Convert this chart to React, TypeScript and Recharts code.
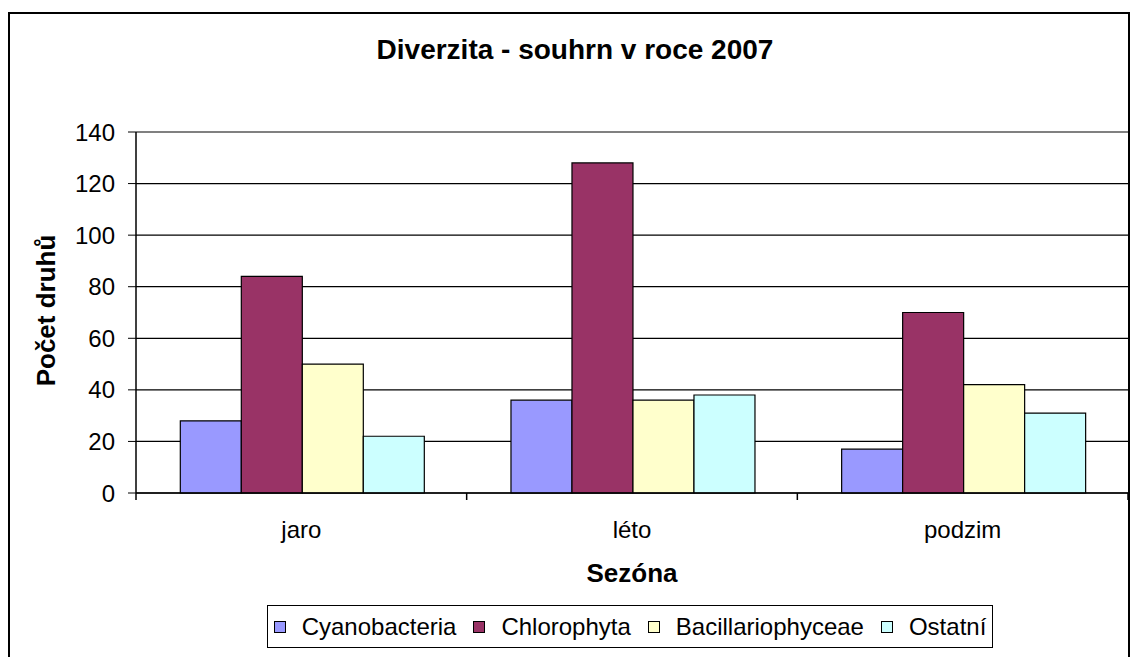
import { Bar, BarChart, CartesianGrid, Legend, ReferenceLine, XAxis, YAxis } from 'recharts';

const seasons = ['jaro', 'léto', 'podzim'];
const cyanobacteria = [28, 36, 17];
const chlorophyta = [84, 128, 70];
const bacillariophyceae = [50, 36, 42];
const ostatni = [22, 38, 31];
const yTicks = [0, 20, 40, 60, 80, 100, 120, 140];
const boundaryTicks = [0, 1, 2, 3];

const series = [
  { key: 'Cyanobacteria', values: cyanobacteria, color: '#9999ff' },
  { key: 'Chlorophyta', values: chlorophyta, color: '#993366' },
  { key: 'Bacillariophyceae', values: bacillariophyceae, color: '#ffffcc' },
  { key: 'Ostatní', values: ostatni, color: '#ccffff' },
];

const data = seasons.map((season, i) => {
  const row: Record<string, string | number> = { season, pos: i + 0.5 };
  for (const s of series) row[s.key] = s.values[i];
  return row;
});

const FONT = '"Liberation Sans", Arial, sans-serif';

function LegendBox() {
  return (
    <div
      style={{
        display: 'flex',
        alignItems: 'center',
        justifyContent: 'center',
        gap: 17,
        height: '100%',
        fontFamily: FONT,
        fontSize: 24,
        color: '#000',
        whiteSpace: 'nowrap',
      }}
    >
      {series.map((s) => (
        <span key={s.key} style={{ display: 'flex', alignItems: 'center', gap: 16 }}>
          <span
            style={{
              width: 10,
              height: 10,
              background: s.color,
              border: '1px solid #000',
              display: 'inline-block',
            }}
          />
          {s.key}
        </span>
      ))}
    </div>
  );
}

function XTitle({ viewBox }: any) {
  if (!viewBox) return null;
  return (
    <text
      x={viewBox.x + viewBox.width / 2}
      y={viewBox.y + 81}
      textAnchor="middle"
      fontFamily={FONT}
      fontSize={26}
      fontWeight="bold"
      fill="#000"
    >
      Sezóna
    </text>
  );
}

function YTitle({ viewBox }: any) {
  if (!viewBox) return null;
  const cx = 55;
  const cy = viewBox.y + viewBox.height / 2 - 2;
  return (
    <text
      x={cx}
      y={cy}
      transform={`rotate(-90, ${cx}, ${cy})`}
      textAnchor="middle"
      fontFamily={FONT}
      fontSize={26}
      fontWeight="bold"
      fill="#000"
    >
      Počet druhů
    </text>
  );
}

export default function App() {
  return (
    <div style={{ position: 'absolute', left: 0, top: 0, width: 1132, height: 657, background: '#fff', overflow: 'hidden' }}>
      <div
        style={{
          position: 'absolute',
          left: 8,
          top: 12,
          width: 1122,
          height: 700,
          border: '2px solid #000',
          boxSizing: 'border-box',
        }}
      />
      <div
        style={{
          position: 'absolute',
          top: 34,
          left: 0,
          width: 1150,
          textAlign: 'center',
          fontFamily: FONT,
          fontWeight: 'bold',
          fontSize: 28,
          lineHeight: '32px',
        }}
      >
        Diverzita - souhrn v roce 2007
      </div>
      <BarChart
        width={1132}
        height={657}
        data={data}
        margin={{ top: 132, right: 4, left: 0, bottom: 61 }}
        barGap={0}
        barCategoryGap="13.4%"
        style={{ position: 'absolute', left: 0, top: 0 }}
      >
        <CartesianGrid vertical={false} stroke="#000" strokeWidth={1.2} />
        <XAxis
          dataKey="pos"
          type="number"
          domain={[0, 3]}
          ticks={boundaryTicks}
          interval={0}
          height={8}
          tickSize={7}
          tickFormatter={() => ''}
          axisLine={{ stroke: '#000', strokeWidth: 1.5 }}
          tickLine={{ stroke: '#000', strokeWidth: 1.5 }}
        />
        <XAxis
          xAxisId="cat"
          dataKey="season"
          height={52}
          axisLine={false}
          tickLine={false}
          tickMargin={14}
          tick={{ fill: '#000', fontFamily: FONT, fontSize: 24 }}
          interval={0}
          label={<XTitle />}
        />
        <YAxis
          width={136}
          domain={[0, 140]}
          ticks={yTicks}
          interval={0}
          tickSize={8}
          tickMargin={13}
          axisLine={{ stroke: '#000', strokeWidth: 1.5 }}
          tickLine={{ stroke: '#000' }}
          tick={{ fill: '#000', fontFamily: FONT, fontSize: 24 }}
          label={<YTitle />}
        />
        <YAxis
          yAxisId="r"
          orientation="right"
          width={0}
          domain={[0, 140]}
          tick={false}
          tickLine={false}
          axisLine={{ stroke: '#808080', strokeWidth: 1.5 }}
        />
        <ReferenceLine y={140} stroke="#808080" strokeWidth={1.5} />
        {series.map((s) => (
          <Bar
            key={s.key}
            xAxisId="cat"
            dataKey={s.key}
            fill={s.color}
            stroke="#000"
            strokeWidth={1.2}
            isAnimationActive={false}
          />
        ))}
        <Legend
          content={<LegendBox />}
          wrapperStyle={{
            position: 'absolute',
            left: 267,
            top: 605,
            width: 726,
            height: 43,
            border: '1.5px solid #000',
            boxSizing: 'border-box',
            background: '#fff',
          }}
        />
      </BarChart>
    </div>
  );
}
